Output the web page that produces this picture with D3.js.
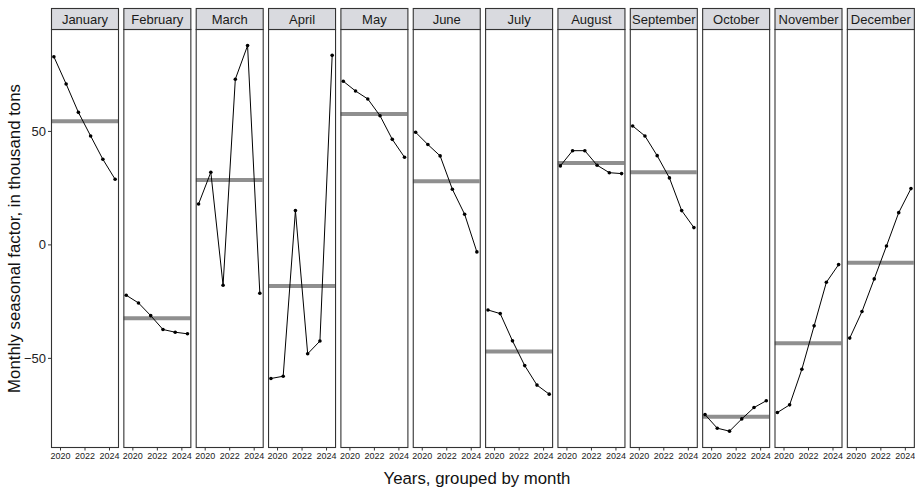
<!DOCTYPE html>
<html>
<head>
<meta charset="utf-8">
<script src="https://cdn.jsdelivr.net/npm/d3@7"></script>
<style>
  html, body { margin: 0; padding: 0; background: #fff; }
  svg { display: block; font-family: "Liberation Sans", Arial, sans-serif; }
</style>
</head>
<body>
<svg id="chart" width="915" height="490"></svg>
<script>
const months = ["January","February","March","April","May","June","July","August","September","October","November","December"];
const years = [2019.5, 2020.5, 2021.5, 2022.5, 2023.5, 2024.5];
const xTicks = [2020, 2022, 2024];
const yTicks = [-50, 0, 50];
const janVals = [82.7, 70.7, 58.2, 47.8, 37.5, 28.7];
const febVals = [-22.4, -25.8, -31.4, -37.5, -38.7, -39.4];
const marVals = [17.8, 31.8, -18.0, 72.8, 87.6, -21.5];
const aprVals = [-59.1, -58.1, 14.9, -48.2, -42.6, 83.3];
const mayVals = [71.9, 67.6, 64.1, 56.7, 46.3, 38.4];
const junVals = [49.4, 44.0, 39.0, 24.3, 13.3, -3.3];
const julVals = [-28.9, -30.5, -42.5, -53.4, -62.0, -66.0];
const augVals = [34.6, 41.3, 41.3, 34.9, 31.6, 31.2];
const sepVals = [52.2, 47.8, 39.1, 29.3, 14.9, 7.4];
const octVals = [-75.0, -81.0, -82.3, -76.9, -71.9, -68.9];
const novVals = [-74.1, -70.7, -55.0, -35.9, -16.7, -8.9];
const decVals = [-41.3, -29.6, -15.2, -0.7, 14.0, 24.6];
const seriesVals = [janVals, febVals, marVals, aprVals, mayVals, junVals, julVals, augVals, sepVals, octVals, novVals, decVals];

const svg = d3.select("#chart");
const left = 51, pitch = 72.35, pw = 67;
const stripTop = 8, plotTop = 29.5, plotBottom = 447.5;

const y = d3.scaleLinear().domain([-89.5, 94.7]).range([plotBottom, plotTop]);
const band = d3.scaleBand().domain(months).range([left, left + pitch * 12]).paddingInner(0).paddingOuter(0);

// y axis
const yAxis = d3.axisLeft(y).tickValues(yTicks).tickSize(3).tickPadding(2).tickFormat(d3.format("d"));
const gy = svg.append("g").attr("transform", `translate(${left},0)`).call(yAxis);
gy.select(".domain").remove();
gy.selectAll("line").attr("stroke", "#333");
gy.selectAll("text").attr("font-size", 13).attr("fill", "#222").attr("font-family", "Liberation Sans, Arial, sans-serif");

months.forEach((m, i) => {
  const x0 = band(m);
  const vals = seriesVals[i];
  const data = years.map((yr, k) => ({yr, v: vals[k]}));
  const x = d3.scaleLinear().domain([2019.265, 2024.735]).range([x0, x0 + pw]);
  const g = svg.append("g");

  const clipId = "clip" + i;
  svg.append("clipPath").attr("id", clipId).append("rect")
    .attr("x", x0).attr("y", plotTop).attr("width", pw).attr("height", plotBottom - plotTop);

  g.append("rect").attr("x", x0 + 0.5).attr("y", plotTop).attr("width", pw).attr("height", plotBottom - plotTop)
    .attr("fill", "#fff");

  const inner = g.append("g").attr("clip-path", `url(#${clipId})`);
  const mean = d3.mean(vals);
  inner.append("line").attr("x1", x0).attr("x2", x0 + pw)
    .attr("y1", y(mean)).attr("y2", y(mean))
    .attr("stroke", "#8f8f8f").attr("stroke-width", 4);
  inner.append("path").datum(data)
    .attr("d", d3.line().x(d => x(d.yr)).y(d => y(d.v)))
    .attr("fill", "none").attr("stroke", "#000").attr("stroke-width", 1);
  inner.selectAll("circle").data(data).join("circle")
    .attr("cx", d => x(d.yr)).attr("cy", d => y(d.v)).attr("r", 1.8).attr("fill", "#000");

  g.append("rect").attr("x", x0 + 0.5).attr("y", plotTop).attr("width", pw).attr("height", plotBottom - plotTop)
    .attr("fill", "none").attr("stroke", "#333").attr("stroke-width", 1.1);

  // strip
  g.append("rect").attr("x", x0 + 0.5).attr("y", stripTop + 0.5).attr("width", pw).attr("height", plotTop - stripTop - 0.5)
    .attr("fill", "#d9dadf").attr("stroke", "#333").attr("stroke-width", 1.1);
  g.append("text").attr("x", x0 + pw / 2 + 0.5).attr("y", (stripTop + plotTop) / 2 + 5)
    .attr("text-anchor", "middle").attr("font-size", 13).attr("fill", "#1a1a1a").text(m);

  // x axis
  const xAxis = d3.axisBottom(x).tickValues(xTicks).tickSize(3).tickPadding(2).tickFormat(d3.format("d"));
  const gx = svg.append("g").attr("transform", `translate(0,${plotBottom})`).call(xAxis);
  gx.select(".domain").remove();
  gx.selectAll("line").attr("stroke", "#333");
  gx.selectAll("text").attr("font-size", 9).attr("fill", "#222").attr("font-family", "Liberation Sans, Arial, sans-serif");
});

// axis titles
svg.append("text").attr("x", 477).attr("y", 484).attr("text-anchor", "middle")
  .attr("font-size", 16.8).attr("fill", "#111").text("Years, grouped by month");
svg.append("text").attr("transform", `translate(19.5,${(plotTop + plotBottom) / 2}) rotate(-90)`)
  .attr("text-anchor", "middle").attr("font-size", 16.8).attr("fill", "#111")
  .text("Monthly seasonal factor, in thousand tons");
</script>
</body>
</html>
